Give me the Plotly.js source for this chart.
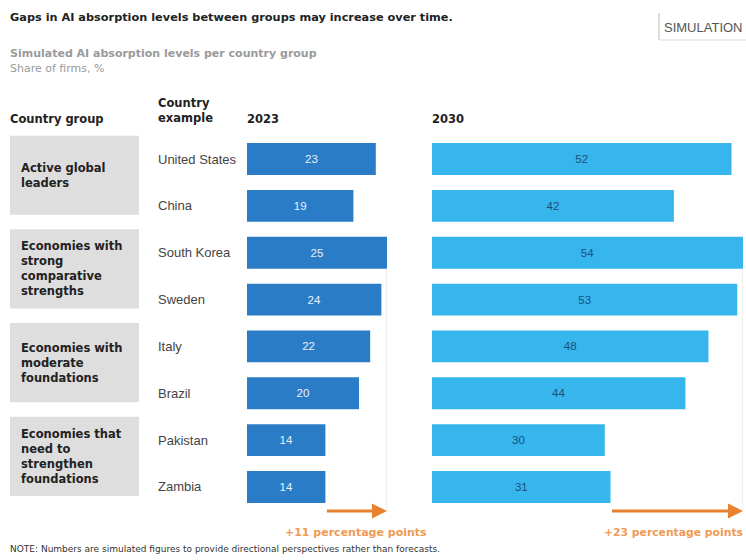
<!DOCTYPE html>
<html>
<head>
<meta charset="utf-8">
<script src="https://cdn.plot.ly/plotly-3.0.1.min.js"></script>
<style>html,body{margin:0;padding:0;background:#fff;}#chart{width:746px;height:560px;}</style>
</head>
<body>
<div id="chart"></div>
<script>
var countries = ["United States","China","South Korea","Sweden","Italy","Brazil","Pakistan","Zambia"];
var values2023 = [23,19,25,24,22,20,14,14];
var values2030 = [52,42,54,53,48,44,30,31];
var groupNames = ["Active global<br>leaders","Economies with<br>strong<br>comparative<br>strengths","Economies with<br>moderate<br>foundations","Economies that<br>need to<br>strengthen<br>foundations"];
var groupFirst = [0,2,4,6];
var groupLast = [1,3,5,7];
var yearLabels = ["2023","2030"];

var W = 746, H = 560;
function px(x){return x/W;}
function py(y){return 1 - y/H;}
var FONT = "Liberation Sans, Arial, sans-serif";
var WIDE = "DejaVu Sans, Verdana, sans-serif";
var darkBlue = "#2b7cc6", lightBlue = "#36b6ec", orange = "#e8822e";

var n = countries.length;
var idx = countries.map(function(_,i){return i;});

var traces = [
  {type:"bar", orientation:"h", x:values2023, y:idx, xaxis:"x", yaxis:"y",
   marker:{color:darkBlue}, width:0.68, text:values2023.map(String),
   textposition:"inside", insidetextanchor:"middle",
   textfont:{color:"#e8f1fa", size:11.5, family:FONT}, hoverinfo:"skip", showlegend:false},
  {type:"bar", orientation:"h", x:values2030, y:idx, xaxis:"x2", yaxis:"y",
   marker:{color:lightBlue}, width:0.68, text:values2030.map(String),
   textposition:"inside", insidetextanchor:"middle",
   textfont:{color:"#1d4f7a", size:11.5, family:FONT}, hoverinfo:"skip", showlegend:false}
];

function argmax(a){var m=0;for(var i=1;i<a.length;i++){if(a[i]>a[m])m=i;}return m;}
var max23 = Math.max.apply(null, values2023), max30 = Math.max.apply(null, values2030);
var last23 = values2023[n-1], last30 = values2030[n-1];

var annotations = [];
var shapes = [];

// title etc.
annotations.push({xref:"paper",yref:"paper",x:px(8),y:py(17),xanchor:"left",yanchor:"middle",showarrow:false,
  text:"<b>Gaps in AI absorption levels between groups may increase over time.</b>",font:{family:WIDE,size:11.3,color:"#222"}});
annotations.push({xref:"paper",yref:"paper",x:px(662),y:py(27),xanchor:"left",yanchor:"middle",showarrow:false,
  text:"SIMULATION",font:{family:FONT,size:13,color:"#555"}});
shapes.push({type:"line",xref:"paper",yref:"paper",x0:px(659),x1:px(659),y0:py(13),y1:py(40),line:{color:"#bbb",width:1}});
shapes.push({type:"line",xref:"paper",yref:"paper",x0:px(659),x1:px(746),y0:py(40),y1:py(40),line:{color:"#ddd",width:1}});
annotations.push({xref:"paper",yref:"paper",x:px(8),y:py(53),xanchor:"left",yanchor:"middle",showarrow:false,
  text:"<b>Simulated AI absorption levels per country group</b>",font:{family:WIDE,size:11,color:"#9a9a9a"}});
annotations.push({xref:"paper",yref:"paper",x:px(8),y:py(68),xanchor:"left",yanchor:"middle",showarrow:false,
  text:"Share of firms, %",font:{family:WIDE,size:11,color:"#9a9a9a"}});

// headers
annotations.push({xref:"paper",yref:"paper",x:px(8),y:py(119),xanchor:"left",yanchor:"middle",showarrow:false,
  text:"<b>Country group</b>",font:{family:WIDE,size:11.5,color:"#222"}});
annotations.push({xref:"paper",yref:"paper",x:px(156),y:py(111),xanchor:"left",yanchor:"middle",showarrow:false,align:"left",
  text:"<b>Country<br>example</b>",font:{family:WIDE,size:11.5,color:"#222"}});
annotations.push({xref:"paper",yref:"paper",x:px(245),y:py(119),xanchor:"left",yanchor:"middle",showarrow:false,
  text:"<b>"+yearLabels[0]+"</b>",font:{family:WIDE,size:11.5,color:"#222"}});
annotations.push({xref:"paper",yref:"paper",x:px(430),y:py(119),xanchor:"left",yanchor:"middle",showarrow:false,
  text:"<b>"+yearLabels[1]+"</b>",font:{family:WIDE,size:11.5,color:"#222"}});

// group boxes
for (var g=0; g<groupNames.length; g++){
  var y0 = groupFirst[g]-0.5, y1 = groupLast[g]+0.19;
  shapes.push({type:"rect",xref:"paper",yref:"y",x0:px(10),x1:px(139),y0:y0,y1:y1,
    fillcolor:"#dedede",line:{width:0},layer:"below"});
  annotations.push({xref:"paper",yref:"y",x:px(19),y:(y0+y1)/2,xanchor:"left",yanchor:"middle",showarrow:false,align:"left",
    text:"<b>"+groupNames[g]+"</b>",font:{family:WIDE,size:11.5,color:"#222"}});
}
// country labels
for (var i=0;i<n;i++){
  annotations.push({xref:"paper",yref:"y",x:px(156),y:i,xanchor:"left",yanchor:"middle",showarrow:false,
    text:countries[i],font:{family:FONT,size:13,color:"#444"}});
}
// vertical reference lines
shapes.push({type:"line",xref:"x",yref:"y",x0:max23,x1:max23,y0:argmax(values2023)+0.34,y1:n-0.5,line:{color:"#dcdcdc",width:1}});
shapes.push({type:"line",xref:"x2",yref:"y",x0:max30,x1:max30,y0:argmax(values2030)+0.34,y1:n-0.5,line:{color:"#dcdcdc",width:1}});

// arrows
var arrowY = py(511);
annotations.push({xref:"x",yref:"paper",x:max23,y:arrowY,axref:"x",ayref:"pixel",ax:last23,ay:0,
  showarrow:true,arrowhead:2,arrowsize:1,arrowwidth:3,arrowcolor:orange,text:""});
annotations.push({xref:"x2",yref:"paper",x:max30,y:arrowY,axref:"x2",ayref:"pixel",ax:last30,ay:0,
  showarrow:true,arrowhead:2,arrowsize:1,arrowwidth:3,arrowcolor:orange,text:""});
annotations.push({xref:"x",yref:"paper",x:(max23+last23)/2,y:py(532),xanchor:"center",yanchor:"middle",showarrow:false,
  text:"<b>+"+(max23-last23)+" percentage points</b>",font:{family:WIDE,size:11,color:"#ef9a55"}});
annotations.push({xref:"paper",yref:"paper",x:px(745),y:py(532),xanchor:"right",yanchor:"middle",showarrow:false,
  text:"<b>+"+(max30-last30)+" percentage points</b>",font:{family:WIDE,size:10.8,color:"#ef9a55"}});

// note
annotations.push({xref:"paper",yref:"paper",x:px(8),y:py(549),xanchor:"left",yanchor:"middle",showarrow:false,
  text:"NOTE: Numbers are simulated figures to provide directional perspectives rather than forecasts.",
  font:{family:WIDE,size:9,color:"#333"}});

var axisCommon = {showgrid:false,zeroline:false,showticklabels:false,showline:false,ticks:"",fixedrange:true};
var layout = {
  width:W,height:H,margin:{l:0,r:0,t:0,b:0},paper_bgcolor:"#fff",plot_bgcolor:"rgba(0,0,0,0)",
  showlegend:false,barmode:"overlay",
  xaxis:Object.assign({},axisCommon,{domain:[px(247),px(387)],range:[0,25],anchor:"y"}),
  xaxis2:Object.assign({},axisCommon,{domain:[px(432),px(743)],range:[0,54],anchor:"y"}),
  yaxis:Object.assign({},axisCommon,{domain:[py(510.4),py(135.6)],range:[n-0.5,-0.5],type:"linear"}),
  annotations:annotations,shapes:shapes,
  font:{family:FONT}
};
Plotly.newPlot("chart",traces,layout,{displayModeBar:false,staticPlot:true});
</script>
</body>
</html>
